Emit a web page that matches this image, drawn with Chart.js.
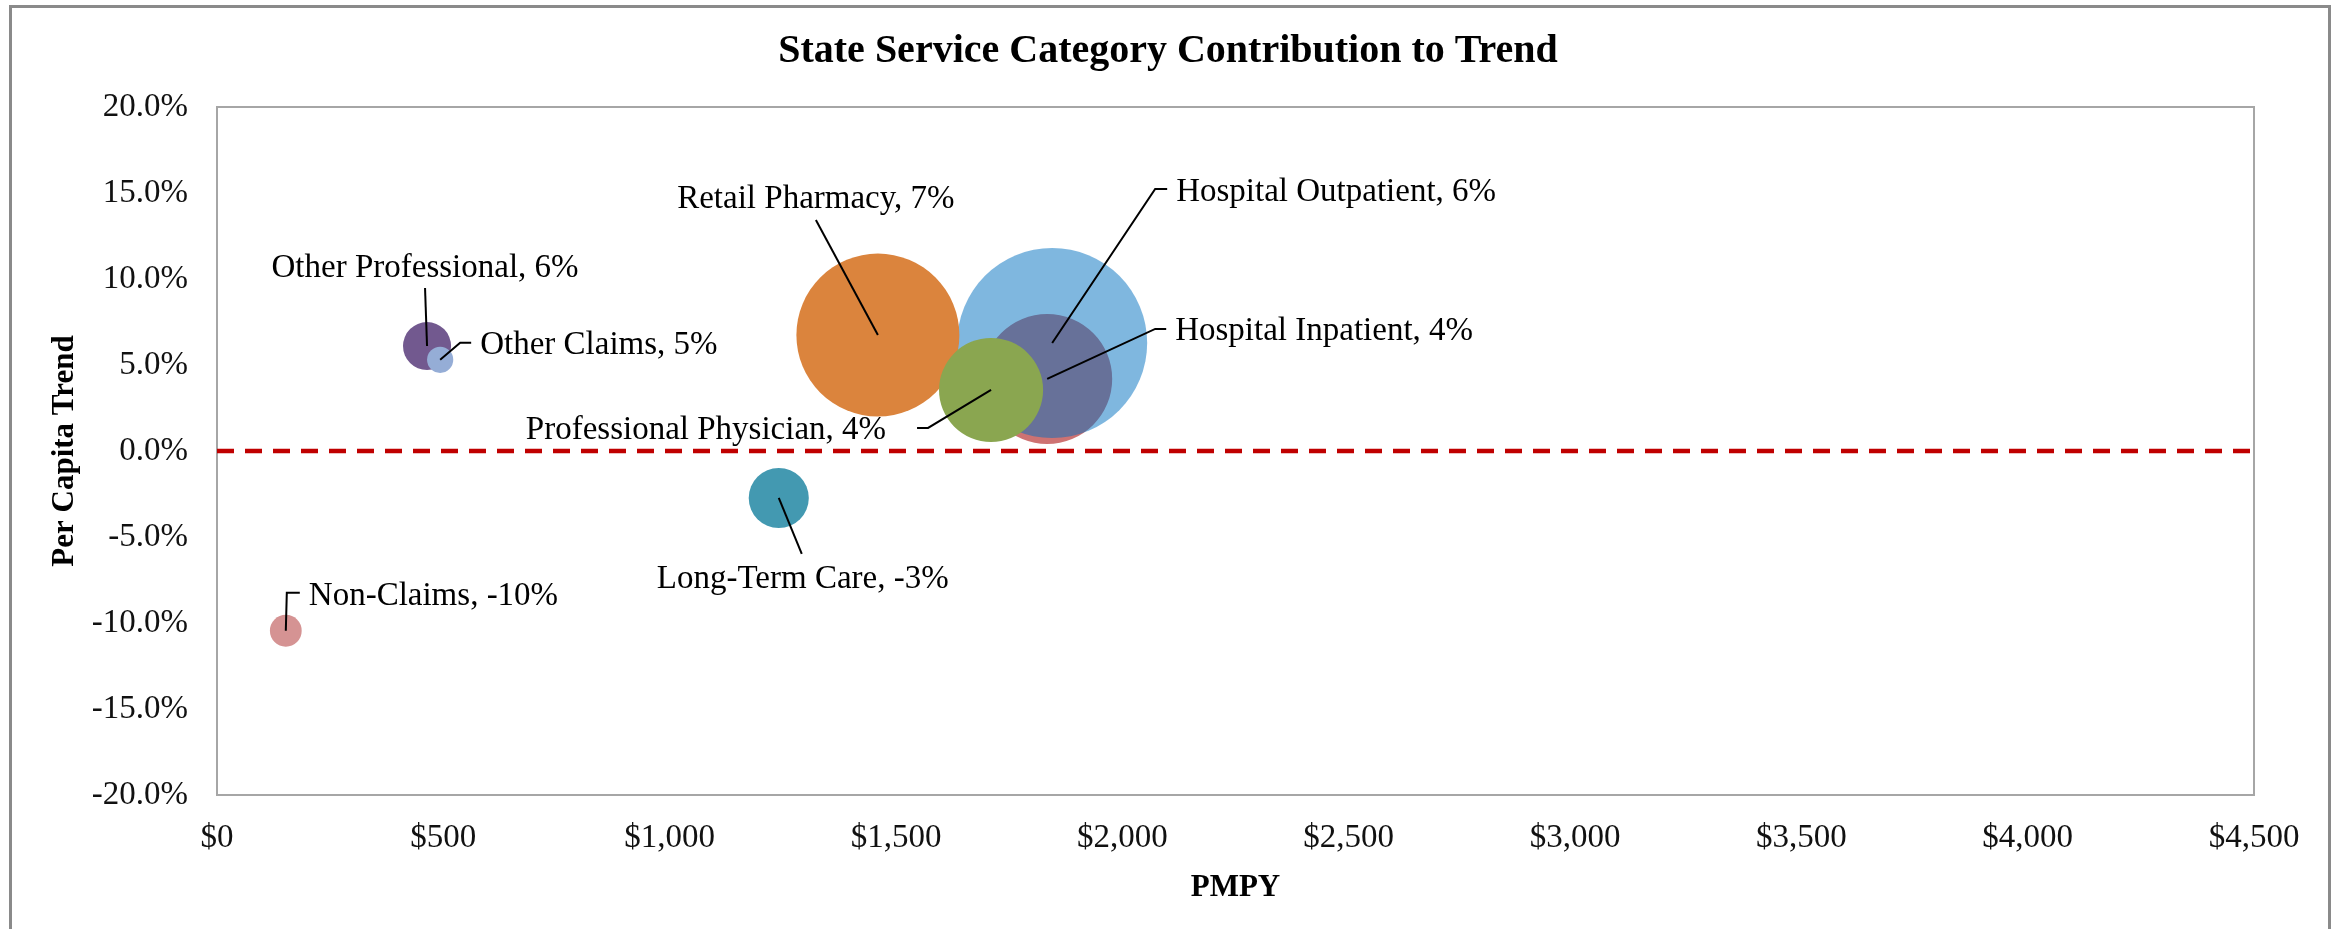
<!DOCTYPE html>
<html>
<head>
<meta charset="utf-8">
<title>State Service Category Contribution to Trend</title>
<script src="https://cdn.jsdelivr.net/npm/chart.js@4"></script>
<style>
  html, body { margin: 0; padding: 0; background: #fff; overflow: hidden; }
  #wrap { position: relative; width: 2336px; height: 929px; }
  #frame { position: absolute; left: 9px; top: 5px; width: 2322px; height: 1000px;
           border: 3px solid #8a8a8a; box-sizing: border-box; }
  #chart { position: absolute; left: 0; top: 0; }
</style>
</head>
<body>
<div id="wrap">
  <div id="frame"></div>
  <canvas id="chart" width="2336" height="929"></canvas>
</div>
<script>
// Data
const categories = ["Non-Claims", "Other Professional", "Other Claims", "Long-Term Care",
                    "Hospital Inpatient", "Hospital Outpatient", "Retail Pharmacy", "Professional Physician"];
const pmpy = [152, 464, 493, 1241, 1834, 1845, 1460, 1710];              // x: PMPY ($)
const perCapitaTrend = [-10.45, 6.1, 5.3, -2.73, 4.19, 6.28, 6.74, 3.55]; // y: trend (%)
const spendSize = [2.8, 6.4, 1.9, 10, 46.8, 100, 73.6, 30];              // bubble size
const xTickValues = [0, 500, 1000, 1500, 2000, 2500, 3000, 3500, 4000, 4500];
const yTickValues = [-20, -15, -10, -5, 0, 5, 10, 15, 20];

const bubbleColors = ["#d59393", "#72598f", "#95add6", "#4399b1",
                      "rgb(206,114,114)", "rgba(0,112,192,0.5)", "#db843d", "#8aa650"];

// where each data label sits relative to its bubble, and its leader line
const labelPlacement = [
    { dx: 23, dy: -34, align: "left", leader: [[0, 0], [1, -38], [14, -38]] },
    { dx: -2, dy: -78, align: "center", leader: [[0, 0], [-2, -58]] },
    { dx: 40, dy: -15, align: "left", leader: [[0, 0], [20, -17], [31, -17]] },
    { dx: 24, dy: 81, align: "center", leader: [[0, 0], [23, 56]] },
    { dx: 128, dy: -48, align: "left", leader: [[0, 0], [108, -50], [119, -50]] },
    { dx: 124, dy: -151, align: "left", leader: [[0, 0], [103, -154], [115, -154]] },
    { dx: -62, dy: -136, align: "center", leader: [[0, 0], [-62, -115]] },
    { dx: -105, dy: 40, align: "right", leader: [[0, 0], [-63, 38], [-74, 38]] }
];

const RADIUS_SCALE = 9.5;
const FONT = "'Liberation Serif', 'Times New Roman', serif";

// Draws "Category, n%" labels with leader lines
const bubbleLabels = {
    id: "bubbleLabels",
    afterDatasetsDraw(chart) {
        const ctx = chart.ctx;
        const meta = chart.getDatasetMeta(0);
        ctx.save();
        ctx.strokeStyle = "#000";
        ctx.lineWidth = 2;
        ctx.fillStyle = "#000";
        ctx.font = "33px " + FONT;
        ctx.textBaseline = "middle";
        meta.data.forEach((pt, i) => {
            const p = labelPlacement[i];
            ctx.beginPath();
            p.leader.forEach(([lx, ly], k) => {
                if (k === 0) ctx.moveTo(pt.x + lx, pt.y + ly);
                else ctx.lineTo(pt.x + lx, pt.y + ly);
            });
            ctx.stroke();
            ctx.textAlign = p.align;
            ctx.fillText(categories[i] + ", " + Math.round(perCapitaTrend[i]) + "%", pt.x + p.dx, pt.y + p.dy);
        });
        ctx.restore();
    }
};

const frameColor = "#a6a6a6";

new Chart(document.getElementById("chart"), {
    type: "bubble",
    data: {
        datasets: [{
            label: "Service Category",
            data: categories.map((c, i) => ({
                x: pmpy[i],
                y: perCapitaTrend[i],
                r: Math.sqrt(spendSize[i]) * RADIUS_SCALE
            })),
            backgroundColor: bubbleColors,
            borderWidth: 0
        }, {
            type: "line",
            label: "Zero",
            data: [{ x: 0, y: 0 }, { x: 4500, y: 0 }],
            borderColor: "#c00000",
            borderWidth: 4.5,
            borderDash: [17, 11],
            pointRadius: 0,
            fill: false
        }]
    },
    options: {
        responsive: false,
        devicePixelRatio: 1,
        animation: false,
        events: [],
        layout: { padding: 0, autoPadding: false },
        plugins: {
            legend: { display: false },
            tooltip: { enabled: false },
            title: {
                display: true,
                text: "State Service Category Contribution to Trend",
                color: "#000",
                font: { family: FONT, size: 40, weight: "bold", lineHeight: 1.2 },
                padding: { top: 28, bottom: 31 }
            }
        },
        scales: {
            x: {
                type: "linear",
                position: "bottom",
                min: 0,
                max: 4500,
                afterBuildTicks: s => { s.ticks = xTickValues.map(v => ({ value: v })); },
                afterFit: s => { s.height = 134; },
                grid: { display: false, drawTicks: false },
                border: { display: true, color: frameColor, width: 2 },
                ticks: {
                    padding: 24,
                    color: "#111",
                    font: { family: FONT, size: 33 },
                    maxRotation: 0,
                    callback: v => "$" + v.toLocaleString("en-US")
                },
                title: {
                    display: true,
                    text: "PMPY",
                    color: "#000",
                    font: { family: FONT, size: 31, weight: "bold", lineHeight: 1.2 },
                    padding: { top: 0, bottom: 22 }
                }
            },
            y: {
                type: "linear",
                position: "left",
                min: -20,
                max: 20,
                afterBuildTicks: s => { s.ticks = yTickValues.map(v => ({ value: v })); },
                afterFit: s => { s.width = 217; },
                grid: { display: false, drawTicks: false },
                border: { display: true, color: frameColor, width: 2 },
                ticks: {
                    padding: 29,
                    color: "#111",
                    font: { family: FONT, size: 33 },
                    callback: v => v.toFixed(1) + "%"
                },
                title: {
                    display: true,
                    text: "Per Capita Trend",
                    color: "#000",
                    font: { family: FONT, size: 31, weight: "bold", lineHeight: 1.2 },
                    padding: { top: 46, bottom: 0 }
                }
            },
            // plain frame lines on the top and right of the plot area
            xTop: {
                type: "linear",
                position: "top",
                afterFit: s => { s.height = 0; },
                grid: { display: false, drawTicks: false },
                border: { display: true, color: frameColor, width: 2 },
                ticks: { display: false }
            },
            yRight: {
                type: "linear",
                position: "right",
                afterFit: s => { s.width = 82; },
                grid: { display: false, drawTicks: false },
                border: { display: true, color: frameColor, width: 2 },
                ticks: { display: false }
            }
        }
    },
    plugins: [bubbleLabels]
});
</script>
</body>
</html>
